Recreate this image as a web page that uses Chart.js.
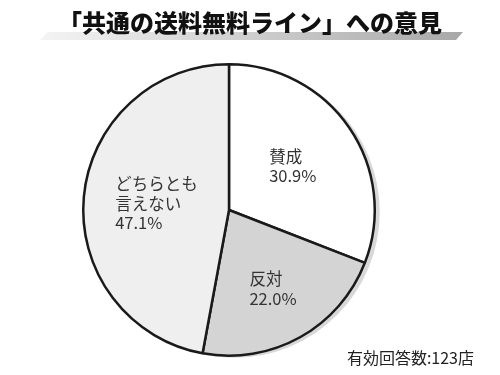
<!DOCTYPE html>
<html><head><meta charset="utf-8">
<script src="https://cdn.jsdelivr.net/npm/chart.js@4/dist/chart.umd.min.js"></script>
<style>
html,body{margin:0;padding:0;background:#fff;}
#wrap{position:relative;width:500px;height:375px;}
</style></head>
<body><div id="wrap"><canvas id="c" width="500" height="375"></canvas></div>
<script>
const titleText = '「共通の送料無料ライン」への意見';
const noteText = '有効回答数:123店';
const categories = ['賛成', '反対', 'どちらとも\n言えない'];
const shares = [30.9, 22.0, 47.1];
const sliceColors = ['#ffffff', '#d4d4d4', '#efefef'];
const labelRadius = [0.53, 0.62, 0.5];

const FONT = '"Noto Sans CJK JP", "Noto Sans", sans-serif';

const decor = {
  id: 'decor',
  beforeDatasetsDraw(chart) {
    const ctx = chart.ctx;
    // title bar
    const g = ctx.createLinearGradient(40, 0, 462, 0);
    g.addColorStop(0, '#f4f4f4');
    g.addColorStop(1, '#a8a8a8');
    ctx.save();
    ctx.fillStyle = g;
    ctx.beginPath();
    ctx.moveTo(48, 32); ctx.lineTo(463, 32); ctx.lineTo(456, 40); ctx.lineTo(40, 40);
    ctx.closePath(); ctx.fill();
    // title
    ctx.fillStyle = '#111';
    ctx.font = '900 24px ' + FONT;
    ctx.textAlign = 'center'; ctx.textBaseline = 'middle';
    ctx.fillText(titleText, 250, 23);
    // note
    ctx.fillStyle = '#222';
    ctx.font = '16px ' + FONT;
    ctx.textAlign = 'right'; ctx.textBaseline = 'alphabetic';
    ctx.fillText(noteText, 474, 364);
    // pie shadow
    const arc = chart.getDatasetMeta(0).data[0];
    if (arc) {
      ctx.fillStyle = '#d8d8d8';
      ctx.beginPath();
      ctx.arc(arc.x + 5, arc.y + 2, arc.outerRadius, 0, Math.PI * 2);
      ctx.fill();
    }
    ctx.restore();
  },
  afterDatasetsDraw(chart) {
    const ctx = chart.ctx;
    const meta = chart.getDatasetMeta(0);
    ctx.save();
    ctx.fillStyle = '#333';
    ctx.font = '16.5px ' + FONT;
    ctx.textBaseline = 'middle';
    ctx.textAlign = 'left';
    meta.data.forEach((a, i) => {
      const mid = (a.startAngle + a.endAngle) / 2;
      const r = a.outerRadius * labelRadius[i];
      const px = a.x + Math.cos(mid) * r;
      const py = a.y + Math.sin(mid) * r;
      const lines = categories[i].split('\n').concat([shares[i].toFixed(1) + '%']);
      const w = Math.max(...lines.map(l => ctx.measureText(l).width));
      const lh = 19.5;
      const top = py - (lines.length - 1) * lh / 2;
      lines.forEach((l, k) => ctx.fillText(l, px - w / 2, top + k * lh));
    });
    ctx.restore();
  }
};

new Chart(document.getElementById('c'), {
  type: 'pie',
  data: {
    labels: categories,
    datasets: [{
      data: shares,
      backgroundColor: sliceColors,
      borderColor: '#1a1a1a',
      borderWidth: 2.5,
      borderAlign: 'center'
    }]
  },
  options: {
    responsive: false,
    animation: false,
    layout: { padding: { top: 63, bottom: 18, left: 82, right: 124 } },
    plugins: { legend: { display: false }, tooltip: { enabled: false }, title: { display: false } }
  },
  plugins: [decor]
});
</script></body></html>
